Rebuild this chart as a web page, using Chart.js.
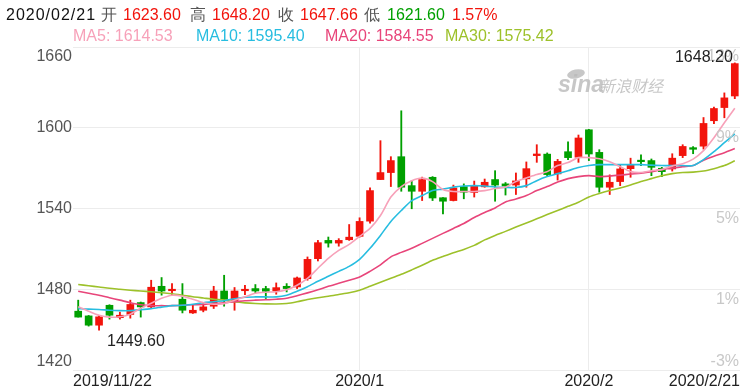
<!DOCTYPE html>
<html>
<head>
<meta charset="utf-8">
<script src="https://cdn.jsdelivr.net/npm/chart.js@4.4.1/dist/chart.umd.min.js"></script>
<style>
  body { margin: 0; background: #fff; }
  #wrap { position: relative; width: 750px; height: 392px; overflow: hidden;
          font-family: Arial, "Liberation Sans", sans-serif; font-size: 16px; }
  #wrap span { position: absolute; white-space: nowrap; line-height: 18px; }
  canvas { position: absolute; left: 0; top: 0; }
</style>
</head>
<body>
<div id="wrap">
  <canvas id="kline" width="750" height="392"></canvas>
  <span style="left:6px;top:6px;color:#111;letter-spacing:1px">2020/02/21</span>
  <span style="left:101px;top:6px;color:#555">开</span>
  <span style="left:123px;top:6px;color:#f2140c">1623.60</span>
  <span style="left:190px;top:6px;color:#555">高</span>
  <span style="left:212px;top:6px;color:#f2140c">1648.20</span>
  <span style="left:278px;top:6px;color:#555">收</span>
  <span style="left:300px;top:6px;color:#f2140c">1647.66</span>
  <span style="left:364px;top:6px;color:#555">低</span>
  <span style="left:387px;top:6px;color:#00a000">1621.60</span>
  <span style="left:452px;top:6px;color:#f2140c">1.57%</span>
  <span style="left:73px;top:27px;color:#f7a1b9">MA5: 1614.53</span>
  <span style="left:196px;top:27px;color:#27bde0">MA10: 1595.40</span>
  <span style="left:325px;top:27px;color:#e8457a">MA20: 1584.55</span>
  <span style="left:445px;top:27px;color:#9dc12a">MA30: 1575.42</span>
</div>
<script>
// trading days shown
const dates = [
  '2019/11/22','2019/11/25','2019/11/26','2019/11/27','2019/11/28','2019/11/29',
  '2019/12/2','2019/12/3','2019/12/4','2019/12/5','2019/12/6','2019/12/9','2019/12/10',
  '2019/12/11','2019/12/12','2019/12/13','2019/12/16','2019/12/17','2019/12/18','2019/12/19',
  '2019/12/20','2019/12/23','2019/12/24','2019/12/26','2019/12/27','2019/12/30','2019/12/31',
  '2020/1/2','2020/1/3','2020/1/6','2020/1/7','2020/1/8','2020/1/9','2020/1/10','2020/1/13',
  '2020/1/14','2020/1/15','2020/1/16','2020/1/17','2020/1/20','2020/1/21','2020/1/22',
  '2020/1/23','2020/1/24','2020/1/27','2020/1/28','2020/1/29','2020/1/30','2020/1/31',
  '2020/2/3','2020/2/4','2020/2/5','2020/2/6','2020/2/7','2020/2/10','2020/2/11','2020/2/12',
  '2020/2/13','2020/2/14','2020/2/17','2020/2/18','2020/2/19','2020/2/20','2020/2/21'
];

const opens = [
  1463.7, 1460.2, 1453.3, 1468.1, 1458.9, 1461.3, 1470.1, 1466.9, 1482.2, 1478.9,
  1472.6, 1462.4, 1464.4, 1467.4, 1478.7, 1470.6, 1478.9, 1480.5, 1480.5, 1478.7,
  1482.2, 1481.7, 1487.9, 1502.7, 1516.3, 1514.3, 1516.8, 1519.3, 1530.6, 1561.5,
  1566.7, 1578.5, 1557.0, 1552.8, 1563.2, 1548.0, 1545.9, 1556.3, 1551.9, 1556.1,
  1561.5, 1558.3, 1557.4, 1562.0, 1579.3, 1580.4, 1565.7, 1582.2, 1578.1, 1598.5,
  1581.7, 1555.8, 1560.0, 1569.6, 1575.9, 1575.6, 1569.9, 1569.4, 1579.3, 1585.2,
  1586.3, 1605.2, 1615.0, 1623.6
];
const highs = [
  1471.9, 1460.5, 1460.7, 1468.5, 1463.0, 1471.9, 1470.5, 1486.7, 1488.7, 1484.2,
  1484.2, 1468.1, 1469.4, 1482.2, 1490.4, 1481.3, 1483.0, 1483.5, 1482.2, 1484.7,
  1484.2, 1489.1, 1504.0, 1516.3, 1518.8, 1517.6, 1528.1, 1533.1, 1555.3, 1590.4,
  1578.5, 1612.6, 1560.7, 1563.3, 1563.7, 1548.1, 1557.4, 1558.3, 1560.4, 1561.9,
  1568.1, 1559.3, 1566.4, 1574.6, 1587.4, 1581.3, 1576.5, 1589.6, 1594.6, 1598.8,
  1583.7, 1565.0, 1572.2, 1577.4, 1579.8, 1576.8, 1570.6, 1580.7, 1587.4, 1586.0,
  1607.6, 1615.3, 1625.9, 1648.2
];
const lows = [
  1459.3, 1452.6, 1449.6, 1457.8, 1457.8, 1458.5, 1459.3, 1465.6, 1475.6, 1475.6,
  1462.4, 1462.0, 1463.2, 1465.7, 1467.4, 1464.4, 1476.0, 1477.3, 1473.1, 1476.3,
  1478.0, 1480.5, 1486.7, 1501.0, 1511.3, 1512.0, 1516.3, 1518.7, 1529.1, 1561.5,
  1556.3, 1552.8, 1539.8, 1545.9, 1545.9, 1536.0, 1545.6, 1547.2, 1548.5, 1555.8,
  1545.4, 1550.0, 1550.4, 1555.8, 1574.3, 1563.7, 1561.1, 1576.3, 1574.3, 1575.6,
  1552.1, 1550.4, 1557.0, 1563.2, 1571.9, 1564.4, 1563.7, 1567.8, 1577.8, 1580.7,
  1584.1, 1603.0, 1607.4, 1621.6
];
const closes = [
  1459.3, 1453.3, 1459.5, 1460.7, 1460.7, 1468.7, 1466.9, 1481.5, 1478.7, 1479.6,
  1464.4, 1464.4, 1466.9, 1478.7, 1472.4, 1478.7, 1479.6, 1478.7, 1478.5, 1481.2,
  1480.5, 1488.4, 1502.2, 1514.6, 1514.3, 1516.3, 1518.7, 1530.4, 1553.3, 1566.7,
  1575.6, 1555.8, 1552.8, 1561.5, 1547.8, 1545.4, 1555.3, 1552.1, 1556.5, 1559.5,
  1557.4, 1556.7, 1560.5, 1569.6, 1580.5, 1565.2, 1575.0, 1577.8, 1592.4, 1580.5,
  1555.8, 1559.5, 1569.4, 1572.4, 1574.8, 1570.6, 1567.4, 1577.4, 1586.1, 1584.0,
  1603.2, 1614.3, 1622.2, 1647.66
];

const ma5 = [
  1467.0, 1463.7, 1460.7, 1459.3, 1459.6, 1461.5, 1465.9, 1469.6, 1473.3, 1475.6,
  1474.8, 1472.6, 1470.0, 1468.9, 1469.3, 1471.9, 1474.4, 1477.0, 1477.8, 1478.1,
  1479.6, 1483.0, 1488.1, 1495.6, 1503.0, 1508.9, 1513.3, 1519.3, 1525.2, 1534.8,
  1548.5, 1556.3, 1560.7, 1562.6, 1560.0, 1554.1, 1552.6, 1552.6, 1552.6, 1553.3,
  1554.8, 1555.9, 1560.0, 1562.6, 1565.2, 1567.4, 1571.9, 1574.1, 1577.8, 1577.8,
  1577.0, 1574.8, 1571.1, 1567.4, 1566.7, 1568.1, 1568.9, 1571.5, 1573.3, 1576.7,
  1583.0, 1592.6, 1603.7, 1614.53
];
const ma10 = [
  1465.6, 1465.2, 1465.0, 1464.4, 1464.1, 1464.1, 1464.8, 1465.6, 1466.7, 1467.8,
  1468.1, 1468.9, 1470.0, 1470.7, 1471.5, 1473.0, 1474.1, 1474.3, 1474.3, 1474.3,
  1475.6, 1478.5, 1481.9, 1485.9, 1489.6, 1493.3, 1497.0, 1502.2, 1510.4, 1520.0,
  1530.4, 1538.5, 1545.9, 1549.6, 1553.3, 1554.4, 1555.9, 1556.7, 1557.0, 1556.7,
  1555.9, 1555.6, 1555.6, 1557.0, 1560.7, 1563.7, 1565.9, 1568.1, 1570.4, 1571.9,
  1572.6, 1572.6, 1572.6, 1572.6, 1572.6, 1572.2, 1571.9, 1571.9, 1571.9, 1571.9,
  1576.3, 1582.2, 1588.9, 1595.40
];
const ma20 = [
  1478.5, 1477.0, 1475.6, 1473.7, 1471.9, 1470.0, 1468.5, 1467.8, 1467.8, 1467.8,
  1468.1, 1468.5, 1468.7, 1469.3, 1470.0, 1470.7, 1471.5, 1471.9, 1472.2, 1472.6,
  1473.3, 1475.2, 1477.3, 1479.6, 1482.2, 1484.4, 1486.7, 1489.1, 1493.3, 1498.1,
  1504.1, 1507.4, 1510.4, 1514.1, 1517.8, 1521.5, 1525.2, 1528.9, 1533.3, 1537.0,
  1540.4, 1544.8, 1547.0, 1549.6, 1553.3, 1556.3, 1559.6, 1562.2, 1563.7, 1564.4,
  1563.7, 1564.1, 1564.8, 1565.6, 1566.3, 1567.4, 1568.9, 1570.0, 1571.1, 1571.9,
  1575.9, 1578.9, 1581.5, 1584.55
];
const ma30 = [
  1483.5, 1482.6, 1481.7, 1480.7, 1480.0, 1479.3, 1478.7, 1478.1, 1477.4, 1476.7,
  1475.6, 1474.4, 1473.5, 1472.6, 1471.9, 1470.7, 1469.9, 1469.4, 1469.1, 1469.0,
  1469.4, 1470.7, 1472.4, 1473.7, 1474.8, 1476.1, 1477.4, 1479.3, 1482.2, 1485.2,
  1488.1, 1491.1, 1494.4, 1497.8, 1501.5, 1504.4, 1507.2, 1509.6, 1512.6, 1516.7,
  1520.0, 1523.0, 1526.2, 1529.3, 1532.3, 1535.5, 1538.5, 1541.6, 1544.7, 1548.5,
  1551.1, 1553.3, 1555.2, 1557.4, 1560.0, 1562.2, 1564.4, 1565.9, 1566.7, 1567.0,
  1567.8, 1569.6, 1571.9, 1575.42
];

const priceTicks = [1420, 1480, 1540, 1600, 1660];
const pctTicks = ['-3%', '1%', '5%', '9%', '13%'];
const dateTicks = [[0, '2019/11/22'], [27, '2020/1'], [49, '2020/2'], [63, '2020/2/21']];

const RED = '#f2140c';
const GREEN = '#00a000';
const GRID = '#ececec';
const FONT = '16px Arial, "Liberation Sans", sans-serif';

const candleColors = opens.map((o, i) => closes[i] >= o ? RED : GREEN);
const lowIdx = lows.indexOf(Math.min(...lows));
const highIdx = highs.indexOf(Math.max(...highs));

const axisText = {
  id: 'axisText',
  beforeDatasetsDraw(chart) {
    // sina watermark
    const { ctx } = chart;
    ctx.save();
    ctx.fillStyle = 'rgba(185,185,185,0.8)';
    ctx.textBaseline = 'middle';
    ctx.font = 'italic bold 23px Arial, "Liberation Sans", sans-serif';
    ctx.fillText('sina', 558, 86);
    ctx.beginPath();
    ctx.ellipse(576, 74, 9, 4.5, -0.2, 0, Math.PI * 2);
    ctx.fill();
    ctx.font = 'italic 16px "Noto Sans CJK SC", sans-serif';
    ctx.fillText('新浪财经', 599, 86);
    ctx.restore();
  },
  afterDraw(chart) {
    const { ctx, chartArea: a, scales: { x, y } } = chart;
    ctx.save();
    ctx.font = FONT;
    ctx.textBaseline = 'middle';

    priceTicks.forEach((v, k) => {
      const py = y.getPixelForValue(v);
      let ly = py;
      if (k === priceTicks.length - 1) ly = py + 10;
      if (k === 0) ly = py - 8;
      ctx.textAlign = 'right';
      ctx.fillStyle = '#555';
      ctx.fillText(String(v), a.left - 1, ly);
      ctx.fillStyle = '#c8c8c8';
      ctx.fillText(pctTicks[k], a.right - 1, k === 0 ? py - 8 : py + 10);
    });

    ctx.fillStyle = '#222';
    dateTicks.forEach(([i, txt], k) => {
      const px = x.getPixelForValue(i);
      ctx.textAlign = k === 0 ? 'left' : (k === dateTicks.length - 1 ? 'right' : 'center');
      const lx = k === 0 ? a.left : (k === dateTicks.length - 1 ? a.right : px);
      ctx.fillText(txt, lx, a.bottom + 12);
    });

    // extreme labels
    ctx.fillStyle = '#222';
    ctx.textAlign = 'right';
    ctx.fillText(highs[highIdx].toFixed(2), x.getPixelForValue(highIdx) - 2, y.getPixelForValue(highs[highIdx]) - 5);
    ctx.textAlign = 'left';
    ctx.fillText(lows[lowIdx].toFixed(2), x.getPixelForValue(lowIdx) + 8, y.getPixelForValue(lows[lowIdx]) + 11);
    ctx.restore();
  }
};

const maLine = (label, data, color) => ({
  type: 'line', label, data, borderColor: color, borderWidth: 1.6,
  pointRadius: 0, tension: 0.25, fill: false, order: 0
});

new Chart(document.getElementById('kline'), {
  type: 'bar',
  data: {
    labels: dates,
    datasets: [
      maLine('MA5', ma5, '#f7a1b9'),
      maLine('MA10', ma10, '#27bde0'),
      maLine('MA20', ma20, '#e8457a'),
      maLine('MA30', ma30, '#9dc12a'),
      {
        label: 'body', data: opens.map((o, i) => [o, closes[i]]),
        backgroundColor: candleColors, barThickness: 7, minBarLength: 1.5,
        grouped: false, order: 1
      },
      {
        label: 'wick', data: lows.map((l, i) => [l, highs[i]]),
        backgroundColor: candleColors, barThickness: 1.2,
        grouped: false, order: 2
      }
    ]
  },
  options: {
    responsive: false,
    animation: false,
    devicePixelRatio: 1,
    layout: { padding: { top: 47, right: 10, bottom: 22, left: 0 } },
    plugins: { legend: { display: false }, tooltip: { enabled: false } },
    scales: {
      x: {
        offset: true,
        grid: {
          offset: false,
          drawTicks: false,
          color: ctx => (ctx.index === 27 || ctx.index === 49) ? GRID : 'transparent'
        },
        border: { display: false },
        ticks: { display: false },
        afterFit: s => { s.height = 0; }
      },
      y: {
        min: 1420, max: 1660,
        ticks: { display: false, stepSize: 60 },
        grid: { color: GRID, drawTicks: false },
        border: { display: false },
        afterFit: s => { s.width = 73; }
      }
    }
  },
  plugins: [axisText]
});
</script>
</body>
</html>
